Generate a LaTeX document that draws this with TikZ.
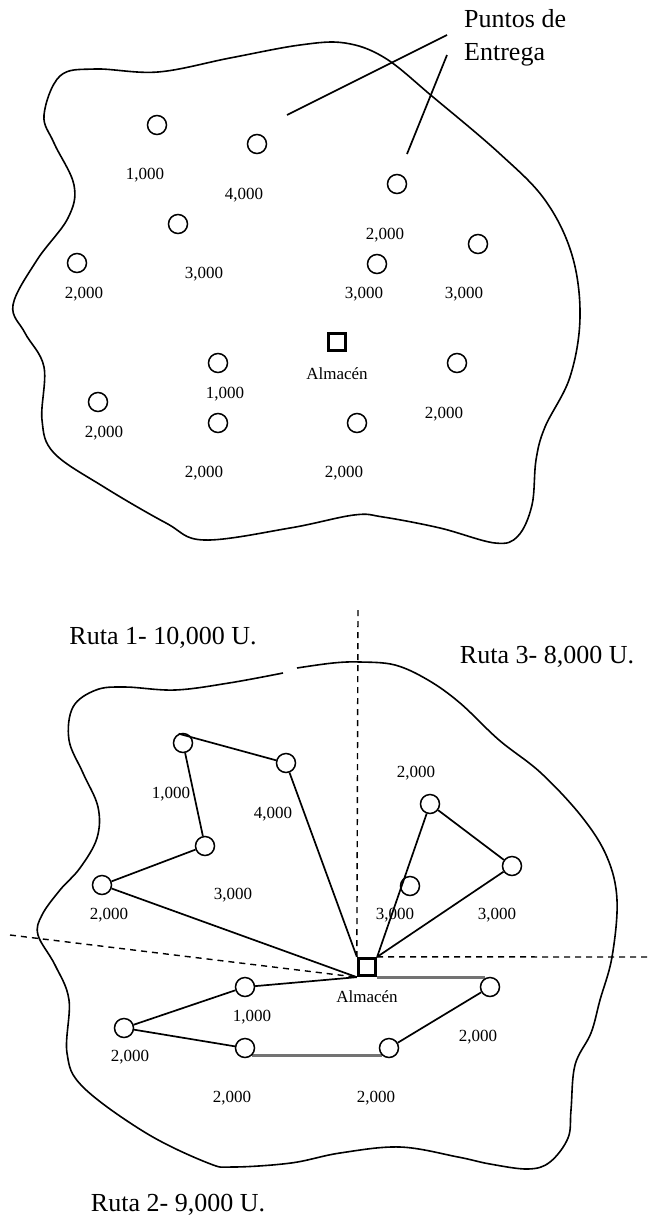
\documentclass[tikz,border=0pt]{standalone}
\usepackage{fontspec}
\setmainfont{Liberation Serif}
\pgfdeclarelayer{bg}
\pgfsetlayers{bg,main}
\tikzset{
        pt/.style={draw, circle, line width=1.5pt, minimum size=19pt, inner sep=0pt},
        depot/.style={draw, rectangle, line width=2.8pt, minimum size=17.5pt, inner sep=0pt},
        qty/.style={font=\fontsize{17}{20}\selectfont, inner sep=0pt},
        big/.style={font=\fontsize{26}{33}\selectfont, inner sep=0pt},
        zone/.style={line width=1.6pt},
        route/.style={line width=1.7pt},
        greyroute/.style={line width=3pt, black!55},
        cut/.style={line width=1.4pt, dash pattern=on 6pt off 5pt}
}

\begin{document}
\begin{tikzpicture}[x=1pt, y=-1pt]
        \useasboundingbox (0,0) rectangle (649,1224);

        \draw [zone] plot [smooth cycle, tension=0.6] coordinates {
                (44,115) (60,76) (95,69) (158,72) (230,58) (300,45) (345,43)
                (385,58) (433,97) (499,153) (545,200) (572,255) (580,317)
                (570,377) (545,427) (536,460) (532,505) (518,536) (495,543)
                (440,528) (383,517) (354,515) (290,528) (204,540) (166,523)
                (104,487) (54,453) (42,420) (44,367) (25,333) (13,305)
                (37,260) (68,218) (74,185) (54,143)};

        \node (t0) [pt] at (157,125) {};
        \node (t1) [pt] at (257,144) {};
        \node (t2) [pt] at (397,184) {};
        \node (t3) [pt] at (178,224) {};
        \node (t4) [pt] at (77,263) {};
        \node (t5) [pt] at (377,264) {};
        \node (t6) [pt] at (478,244) {};
        \node (t7) [pt] at (218,363) {};
        \node (t8) [pt] at (457,363) {};
        \node (t9) [pt] at (98,402) {};
        \node (t10) [pt] at (218,423) {};
        \node (t11) [pt] at (357,423) {};
        \node (ta) [depot] at (337,342) {};

        \node (t0q) [qty] at (145,175) {1,000};
        \node (t1q) [qty] at (244,195) {4,000};
        \node (t2q) [qty] at (385,235) {2,000};
        \node (t3q) [qty] at (204,274) {3,000};
        \node (t4q) [qty] at (84,294) {2,000};
        \node (t5q) [qty] at (364,294) {3,000};
        \node (t6q) [qty] at (464,294) {3,000};
        \node (t7q) [qty] at (225,394) {1,000};
        \node (t8q) [qty] at (444,414) {2,000};
        \node (t9q) [qty] at (104,433) {2,000};
        \node (t10q) [qty] at (204,473) {2,000};
        \node (t11q) [qty] at (344,473) {2,000};
        \node (taq) [qty] at (337,374) {Almacén};

        \node (pe) [big, align=left, anchor=north west] at (464,9) {Puntos de\\Entrega};
        \coordinate (pe1) at (447,35);
        \coordinate (pe2) at (447,55);
        \coordinate (pa) at (287,115);
        \coordinate (pb) at (407,154);
        \draw [route] (pe1) -- (pa);
        \draw [route] (pe2) -- (pb);

        \draw [zone] plot [smooth, tension=0.6] coordinates {
                (297,668) (333,663) (360,662) (395,665) (428,680) (460,703)
                (499,740) (541,773) (582,817) (607,857) (617,900) (612,957)
                (600,1000) (591,1033) (575,1065) (571,1110) (568,1138)
                (550,1162) (528,1169) (490,1164) (458,1157) (400,1147)
                (340,1153) (291,1163) (233,1167) (208,1163) (146,1133)
                (83,1087) (67,1053) (69,1000) (55,965) (38,935) (42,915)
                (60,890) (80,868) (97,838) (98,807) (83,773) (69,740)
                (73,707) (96,690) (125,687) (175,690) (229,683) (283,673)};

        \node (b0) [pt] at (183,743) {};
        \node (b1) [pt] at (286,763) {};
        \node (b2) [pt] at (430,804) {};
        \node (b3) [pt] at (205,846) {};
        \node (b4) [pt] at (102,885) {};
        \node (b5) [pt] at (410,886) {};
        \node (b6) [pt] at (512,866) {};
        \node (b7) [pt] at (245,987) {};
        \node (b8) [pt] at (490,987) {};
        \node (b9) [pt] at (124,1028) {};
        \node (b10) [pt] at (245,1048) {};
        \node (b11) [pt] at (389,1048) {};
        \node (ba) [depot] at (367,967) {};

        \node (b0q) [qty] at (171,794) {1,000};
        \node (b1q) [qty] at (273,814) {4,000};
        \node (b2q) [qty] at (416,773) {2,000};
        \node (b3q) [qty] at (233,895) {3,000};
        \node (b4q) [qty] at (109,915) {2,000};
        \node (b5q) [qty] at (395,915) {3,000};
        \node (b6q) [qty] at (497,915) {3,000};
        \node (b7q) [qty] at (252,1017) {1,000};
        \node (b8q) [qty] at (478,1037) {2,000};
        \node (b9q) [qty] at (130,1057) {2,000};
        \node (b10q) [qty] at (232,1098) {2,000};
        \node (b11q) [qty] at (376,1098) {2,000};
        \node (baq) [qty] at (367,997) {Almacén};

        \node (r1) [big] at (163,638) {Ruta 1- 10,000 U.};
        \node (r3) [big] at (547,657) {Ruta 3- 8,000 U.};
        \node (r2) [big] at (178,1205) {Ruta 2- 9,000 U.};

        \coordinate (c1) at (358,610);
        \coordinate (c2) at (10,935);
        \coordinate (c3) at (649,957);

        \begin{pgfonlayer}{bg}
                \draw [cut] (c1) -- (ba.north west);
                \draw [cut] (c2) -- (ba.south west);
                \draw [cut] (ba.north east) -- (c3);
                \draw (b0.115) edge [route] (b1);
                \draw (b0) edge [route] (b3);
                \draw (b3) edge [route] (b4);
                \draw (b4) edge [route] (ba.south west);
                \draw (b1) edge [route] (ba.north west);
                \draw (ba.north east) edge [route] (b2);
                \draw (b2) edge [route] (b6);
                \draw (b6) edge [route] (ba.north east);
                \draw (ba.south west) edge [route] (b7);
                \draw (b7) edge [route] (b9);
                \draw (b9) edge [route] (b10);
                \draw (b11) edge [route] (b8);
                \draw (b10.south east) edge [greyroute] (b11.south west);
                \draw (ba.south east) edge [greyroute] (ba.south east -| b8.120);
        \end{pgfonlayer}
\end{tikzpicture}
\end{document}
